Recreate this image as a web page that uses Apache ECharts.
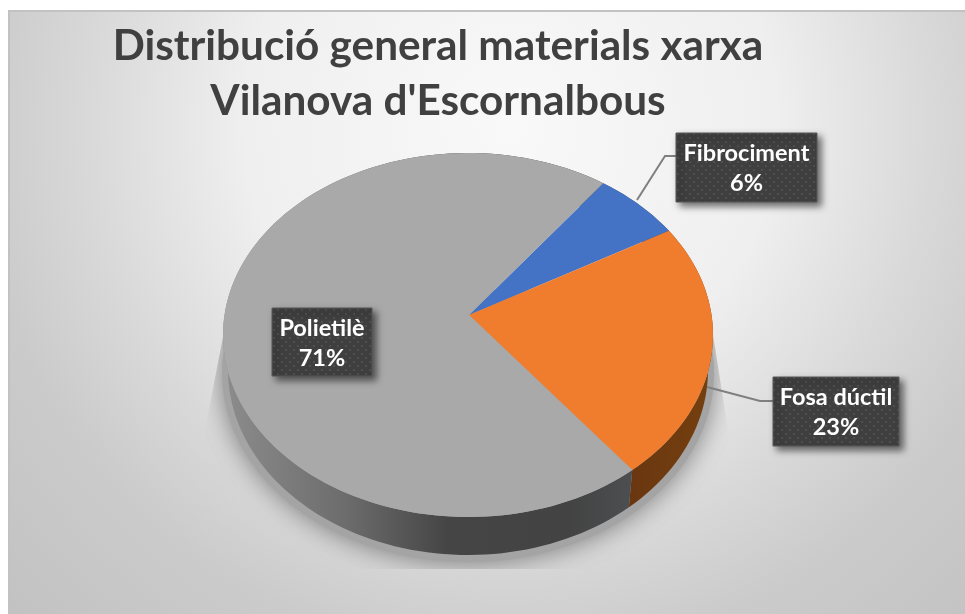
<!DOCTYPE html>
<html>
<head>
<meta charset="utf-8">
<style>
  html, body { margin: 0; padding: 0; background: #fff; }
  #chart { width: 965px; height: 614px; }
</style>
<script src="https://cdn.jsdelivr.net/npm/echarts@6/dist/echarts.min.js"></script>
</head>
<body>
<div id="chart"></div>
<script>
  const titleLines = ['Distribució general materials xarxa', "Vilanova d'Escornalbous"];
  const materials = ['Fibrociment', 'Fosa dúctil', 'Polietilè'];
  const percents = [6, 23, 71];
  const faceColors = ['#4472c4', '#f07d2e', '#a9a9a9'];

  // top face and bottom rim of the tilted pie, apex sits above the ellipse centre
  const face = { cx: 468, cy: 335, rx: 245, ry: 182, apexX: 469, apexY: 315 };
  const rim = { cx: 468, cy: 370, rx: 240, ry: 185 };
  const startDeg = 33.5;

  // label box [x, y, w, h] and leader line for each material
  const boxes = [[676, 133, 141, 69], [773, 377, 126, 69], [272, 308, 100, 68]];
  const leaders = [
    [[637, 200], [665, 156], [676, 156]],
    [[707, 387], [760, 401], [773, 401]],
    null
  ];

  function arcPoints(e, from, to) {
    const pts = [];
    const n = Math.max(2, Math.ceil((to - from) / 2));
    for (let i = 0; i <= n; i++) {
      const a = (from + (to - from) * i / n) * Math.PI / 180;
      pts.push([e.cx + e.rx * Math.sin(a), e.cy - e.ry * Math.cos(a)]);
    }
    return pts;
  }

  function sliceRange(index) {
    let before = 0;
    for (let i = 0; i < index; i++) before += percents[i];
    return [startDeg + before * 3.6, startDeg + (before + percents[index]) * 3.6];
  }

  function dotPattern() {
    const c = document.createElement('canvas');
    c.width = 8;
    c.height = 8;
    const g = c.getContext('2d');
    g.fillStyle = '#3f3f3f';
    g.fillRect(0, 0, 8, 8);
    g.fillStyle = '#4f4f4f';
    g.fillRect(1, 1, 2, 2);
    g.fillRect(5, 5, 2, 2);
    return c;
  }
  const boxFill = { image: dotPattern(), repeat: 'repeat' };

  function wallFill(index) {
    if (index === 1) {
      return { type: 'linear', x: 620, y: 0, x2: 710, y2: 0, global: true, colorStops: [
        { offset: 0, color: '#693510' }, { offset: 1, color: '#74400f' }
      ] };
    }
    return { type: 'linear', x: 225, y: 0, x2: 630, y2: 0, global: true, colorStops: [
      { offset: 0, color: '#8c8c8c' },
      { offset: 0.3, color: '#6c6c6c' },
      { offset: 0.55, color: '#454545' },
      { offset: 0.85, color: '#434343' },
      { offset: 1, color: '#4c4e50' }
    ] };
  }

  function renderWall(params, api) {
    const [from, to] = sliceRange(params.dataIndex);
    const pts = arcPoints(face, from, to).concat(arcPoints(rim, from, to).reverse());
    const children = [];
    if (params.dataIndex === 0) {
      // soft cast shadow, cut off in a wedge at the sides and flat at the bottom
      children.push({
        type: 'polygon',
        shape: { points: arcPoints({ cx: 468, cy: 373, rx: 246, ry: 189 }, 0, 360) },
        style: { fill: '#a4a4a4', shadowBlur: 26, shadowColor: 'rgba(80,80,80,0.7)' },
        clipPath: {
          type: 'polygon',
          shape: { points: [[232, 290], [205, 430], [205, 569], [728, 569], [728, 430], [706, 290]] }
        }
      });
    }
    children.push({ type: 'polygon', shape: { points: pts }, style: { fill: wallFill(params.dataIndex) } });
    return { type: 'group', children: children };
  }

  function renderFace(params, api) {
    const [from, to] = sliceRange(params.dataIndex);
    const pts = [[face.apexX, face.apexY]].concat(arcPoints(face, from, to));
    return { type: 'polygon', shape: { points: pts }, style: { fill: faceColors[params.dataIndex] } };
  }

  function renderLabel(params, api) {
    const i = params.dataIndex;
    const b = boxes[i];
    const children = [];
    if (leaders[i]) {
      children.push({
        type: 'polyline',
        shape: { points: leaders[i] },
        style: { fill: null, stroke: '#7f7f7f', lineWidth: 2 }
      });
    }
    children.push({
      type: 'rect',
      shape: { x: b[0], y: b[1], width: b[2], height: b[3] },
      style: {
        fill: boxFill, stroke: '#595959', lineWidth: 1,
        shadowBlur: 7, shadowOffsetX: 4, shadowOffsetY: 4, shadowColor: 'rgba(0,0,0,0.55)'
      }
    });
    children.push({
      type: 'text',
      style: {
        x: b[0] + b[2] / 2,
        y: b[1] + b[3] / 2 + 1,
        text: materials[i] + '\n' + api.value(0) + '%',
        fill: '#ffffff',
        font: 'bold 23.5px Lato',
        lineHeight: 30,
        align: 'center',
        verticalAlign: 'middle'
      }
    });
    return { type: 'group', children: children };
  }

  const chart = echarts.init(document.getElementById('chart'));
  chart.setOption({
    animation: false,
    title: {
      text: titleLines.join('\n'),
      left: 433,
      top: 14,
      textAlign: 'center',
      textStyle: { fontFamily: 'Lato', fontWeight: 'bold', fontSize: 42.3, lineHeight: 55, color: '#404040' }
    },
    graphic: [{
      type: 'rect',
      z: -100,
      shape: { x: 9, y: 11, width: 970, height: 620 },
      style: {
        stroke: '#c2c2c2',
        lineWidth: 2,
        fill: { type: 'radial', x: 510, y: 125, r: 700, global: true, colorStops: [
          { offset: 0, color: '#f9f9f9' },
          { offset: 0.38, color: '#efefef' },
          { offset: 0.6, color: '#d9d9d9' },
          { offset: 0.76, color: '#cbcbcb' },
          { offset: 1, color: '#c2c2c2' }
        ] }
      }
    }],
    series: [
      { type: 'custom', coordinateSystem: 'none', z: 2, silent: true, data: percents, renderItem: renderWall },
      { type: 'custom', coordinateSystem: 'none', z: 3, silent: true, data: percents, renderItem: renderFace },
      { type: 'custom', coordinateSystem: 'none', z: 4, silent: true, data: percents, renderItem: renderLabel }
    ]
  });
</script>
</body>
</html>
